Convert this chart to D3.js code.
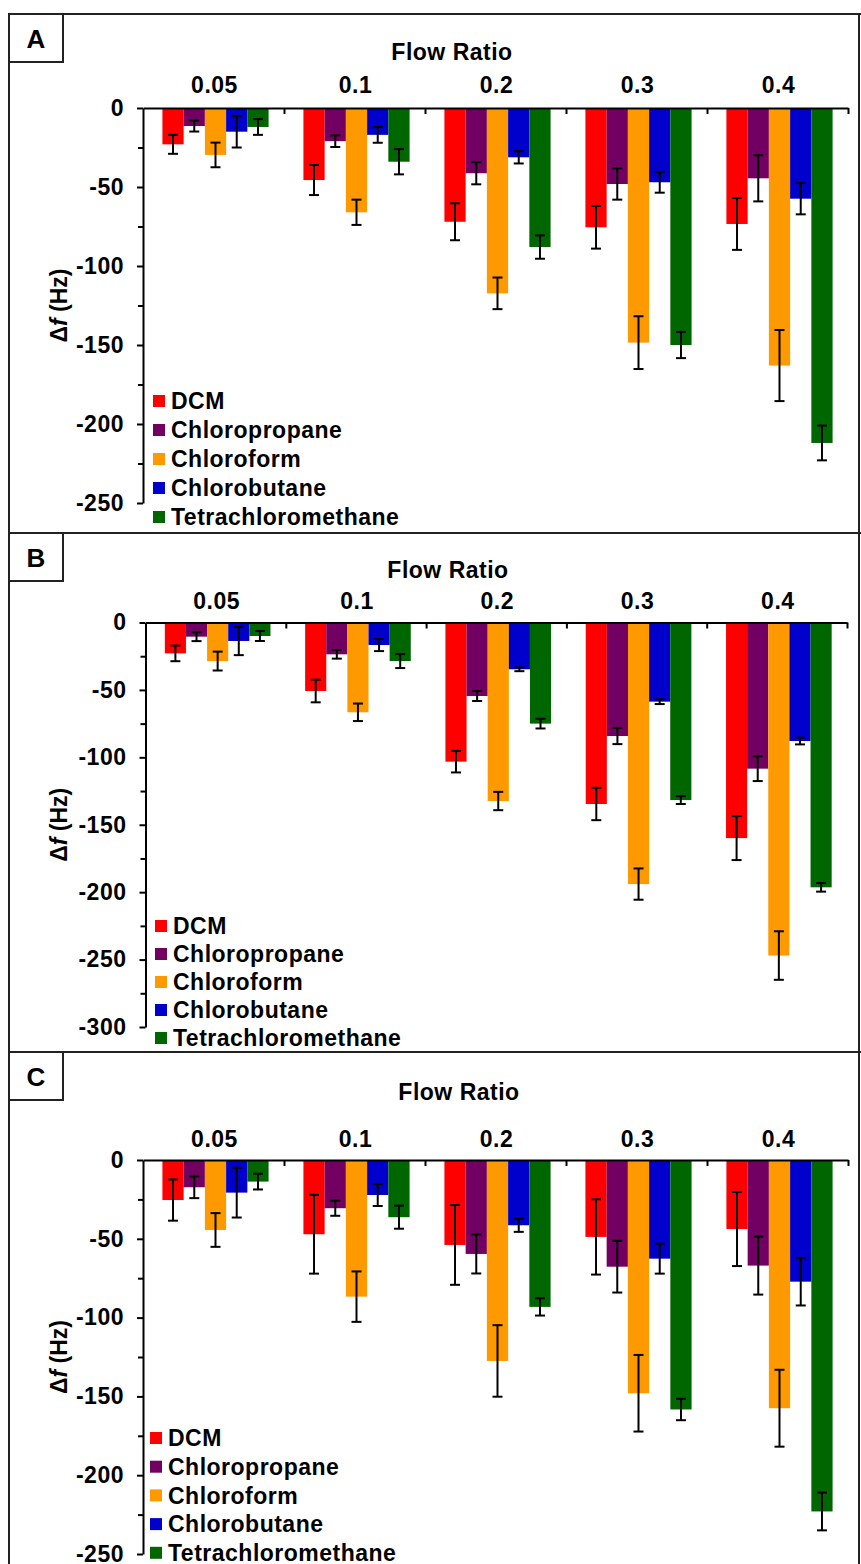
<!DOCTYPE html>
<html>
<head>
<meta charset="utf-8">
<script src="https://cdn.jsdelivr.net/npm/d3@7"></script>
<style>
  body { margin: 0; background: #fff; }
  text { font-family: "Liberation Sans", Arial, sans-serif; font-weight: bold; fill: #000; }
</style>
</head>
<body>
<svg id="chart"></svg>
<script>
const width = 861;
const height = 1564;

const categories = ["0.05", "0.1", "0.2", "0.3", "0.4"];
const solvents = ["DCM", "Chloropropane", "Chloroform", "Chlorobutane", "Tetrachloromethane"];
const colors = ["#ff0000", "#720062", "#ff9900", "#0000cc", "#006600"];

// rows = solvents, columns = flow ratio
const valuesA = [
  [-23, -45.6, -72, -75.5, -73.4],
  [-11.4, -21, -41.3, -48.1, -44.5],
  [-29.7, -66, -117.3, -148.5, -163],
  [-15, -17, -31.2, -47, -57.4],
  [-12, -34, -88, -150, -212]
];
const errorsA = [
  [6, 9.5, 11.7, 13.5, 16.4],
  [3.5, 3.7, 7, 9.9, 14.6],
  [7.8, 8, 10, 16.7, 22.5],
  [10, 5, 3.9, 6.6, 9.9],
  [5, 8, 7.4, 8.3, 11]
];
const valuesB = [
  [-22.9, -50.8, -103.2, -134.6, -159.9],
  [-10.5, -23.6, -54.5, -84.2, -108.4],
  [-28.6, -66.6, -132.4, -194, -247],
  [-13.7, -16.7, -34.7, -58.7, -87.9],
  [-10, -28.6, -75, -131.7, -196.4]
];
const errorsB = [
  [5.8, 8.4, 8, 12, 16.3],
  [3.3, 3.2, 3.7, 6, 9.2],
  [7, 6.5, 6.8, 11.6, 18],
  [10.5, 4.5, 1.4, 1.8, 2.5],
  [3.7, 5.2, 3.6, 2.9, 3.2]
];
const valuesC = [
  [-25.4, -47.1, -53.9, -48.8, -43.8],
  [-17.3, -30.6, -59.6, -67.7, -67],
  [-44.4, -86.7, -127.5, -148, -157.5],
  [-20.7, -22.2, -41.4, -62.6, -77.2],
  [-13.7, -36.3, -93.2, -158.3, -223]
];
const errorsC = [
  [13.1, 25, 25.3, 23.9, 23.5],
  [6.9, 4.8, 12.4, 16.4, 18.4],
  [10.7, 16, 22.7, 24.3, 24.4],
  [15.8, 7, 4.2, 9.5, 15.1],
  [5, 7.3, 5.5, 6.8, 12]
];
const yTicksA = [0, -50, -100, -150, -200, -250];
const yTicksB = [0, -50, -100, -150, -200, -250, -300];
const yTicksC = [0, -50, -100, -150, -200, -250];

const panels = [
  { label: "A", values: valuesA, errors: errorsA, ticks: yTicksA, top: 14,
    xr: [143, 848], yr: [108, 503], titleX: 452, titleY: 60, catY: 93,
    legX: 153, legY: 401, legStep: 29 },
  { label: "B", values: valuesB, errors: errorsB, ticks: yTicksB, top: 533,
    xr: [145.5, 847], yr: [622.5, 1027], titleX: 448, titleY: 578, catY: 609,
    legX: 155, legY: 926, legStep: 28 },
  { label: "C", values: valuesC, errors: errorsC, ticks: yTicksC, top: 1052,
    xr: [143, 848], yr: [1160, 1554], titleX: 459, titleY: 1100, catY: 1147,
    legX: 150, legY: 1438, legStep: 28.7 }
];

const fs = 23;
const ls = 0.5;

const svg = d3.select("#chart").attr("width", width).attr("height", height);
svg.append("rect").attr("width", width).attr("height", height).attr("fill", "#fff");

panels.forEach((p) => {
  const g = svg.append("g");

  const x0 = d3.scaleBand().domain(categories).range(p.xr);
  const x1 = d3.scaleBand().domain(d3.range(solvents.length))
    .range([0, x0.bandwidth()]).paddingOuter(0.82);
  const y = d3.scaleLinear().domain([d3.min(p.ticks), 0]).range([p.yr[1], p.yr[0]]);

  const rows = (c, ci) => solvents.map((s, si) => ({ si, v: p.values[si][ci], e: p.errors[si][ci] }));

  // bars
  const groups = g.selectAll(".grp").data(categories).enter().append("g")
    .attr("transform", (c) => `translate(${x0(c) + 2},0)`);

  groups.selectAll("rect").data(rows)
    .enter().append("rect")
    .attr("x", (d) => x1(d.si))
    .attr("width", x1.bandwidth())
    .attr("y", y(0))
    .attr("height", (d) => y(d.v) - y(0))
    .attr("fill", (d) => colors[d.si]);

  // error bars
  const eb = groups.selectAll(".err").data(rows)
    .enter().append("g").attr("class", "err")
    .attr("transform", (d) => `translate(${x1(d.si) + x1.bandwidth() / 2},0)`)
    .attr("stroke", "#000").attr("stroke-width", 2);
  eb.append("line").attr("y1", (d) => y(d.v - d.e)).attr("y2", (d) => y(d.v + d.e));
  eb.append("line").attr("x1", -5).attr("x2", 5).attr("y1", (d) => y(d.v - d.e)).attr("y2", (d) => y(d.v - d.e));
  eb.append("line").attr("x1", -5).attr("x2", 5).attr("y1", (d) => y(d.v + d.e)).attr("y2", (d) => y(d.v + d.e));

  // y axis (minor ticks every 25, labels every 50)
  const minor = d3.range(-25, d3.min(p.ticks), -50);
  g.append("g").attr("transform", `translate(${p.xr[0]},0)`)
    .call(d3.axisLeft(y).tickValues(minor).tickSize(5).tickSizeOuter(0).tickFormat(""))
    .call((a) => a.select(".domain").remove())
    .selectAll("line").attr("stroke-width", 2);
  const ya = g.append("g").attr("transform", `translate(${p.xr[0]},0)`)
    .call(d3.axisLeft(y).tickValues(p.ticks).tickSize(6).tickSizeOuter(0).tickPadding(13)
      .tickFormat((d) => String(d)));
  ya.select(".domain").attr("stroke-width", 2);
  ya.selectAll("line").attr("stroke-width", 2);
  ya.selectAll("text").attr("font-size", fs).attr("font-family", null).attr("letter-spacing", ls);

  // top category axis
  const xb = d3.scaleLinear().domain([0, categories.length]).range(p.xr);
  const xa = g.append("g").attr("transform", `translate(0,${y(0)})`)
    .call(d3.axisBottom(xb).tickValues(d3.range(1, categories.length + 1)).tickSize(6).tickSizeOuter(0).tickFormat(""));
  xa.select(".domain").attr("stroke-width", 2);
  xa.selectAll("line").attr("stroke-width", 2);

  g.selectAll(".cat").data(categories).enter().append("text")
    .attr("x", (c) => x0(c) + x0.bandwidth() / 2 + 1)
    .attr("y", p.catY)
    .attr("text-anchor", "middle")
    .attr("font-size", fs)
    .attr("letter-spacing", ls)
    .text((c) => c);

  g.append("text").attr("x", p.titleX).attr("y", p.titleY)
    .attr("text-anchor", "middle").attr("font-size", fs).attr("letter-spacing", ls)
    .text("Flow Ratio");

  // y label
  const yl = g.append("text")
    .attr("transform", `translate(67,${(p.yr[0] + p.yr[1]) / 2}) rotate(-90)`)
    .attr("text-anchor", "middle").attr("font-size", fs);
  yl.append("tspan").text("\u0394");
  yl.append("tspan").attr("font-style", "italic").text("f");
  yl.append("tspan").text(" (Hz)");

  // legend
  const leg = g.selectAll(".leg").data(solvents).enter().append("g")
    .attr("transform", (d, i) => `translate(${p.legX},${p.legY + i * p.legStep})`);
  leg.append("rect").attr("x", 0).attr("y", -6).attr("width", 12).attr("height", 12)
    .attr("fill", (d, i) => colors[i]);
  leg.append("text").attr("x", 18).attr("dy", "0.36em").attr("font-size", fs).attr("letter-spacing", ls)
    .text((d) => d);

  // frame and label box
  g.append("line").attr("x1", 9).attr("x2", 861).attr("y1", p.top).attr("y2", p.top)
    .attr("stroke", "#222").attr("stroke-width", 2);
  g.append("rect").attr("x", 9).attr("y", p.top).attr("width", 54).attr("height", 48)
    .attr("fill", "#fff").attr("stroke", "#222").attr("stroke-width", 2);
  g.append("text").attr("x", 36).attr("y", p.top + 34).attr("text-anchor", "middle")
    .attr("font-size", 26).text(p.label);
});

svg.append("line").attr("x1", 9).attr("x2", 9).attr("y1", 13).attr("y2", height)
  .attr("stroke", "#222").attr("stroke-width", 2);
svg.append("line").attr("x1", 859).attr("x2", 859).attr("y1", 13).attr("y2", height)
  .attr("stroke", "#222").attr("stroke-width", 2);
</script>
</body>
</html>
